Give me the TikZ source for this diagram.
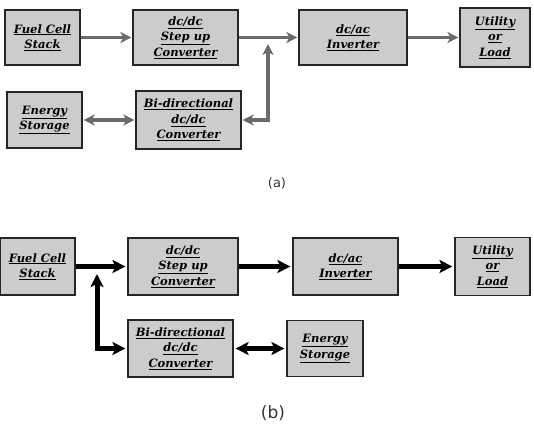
\documentclass[tikz,border=0pt]{standalone}
\usepackage{fontspec}
\setmainfont{DejaVu Serif}
\newfontfamily\capfont{DejaVu Sans}
\usetikzlibrary{arrows.meta}
\tikzset{
  blk/.style={draw=black!85, line width=1.2pt, fill=black!20, align=center, inner sep=1pt,
    font=\fontsize{11.5}{15.5}\selectfont\bfseries\itshape, text=black},
  arA/.style={draw=black!58, line width=3.5pt, -{Stealth[length=11pt,width=11pt,inset=3pt]}, shorten >=1pt},
  arAb/.style={draw=black!58, line width=3.5pt, {Stealth[length=11pt,width=11pt,inset=3pt]}-{Stealth[length=11pt,width=11pt,inset=3pt]}, shorten >=1pt, shorten <=1pt},
  arB/.style={draw=black, line width=5pt, -{Stealth[length=13pt,width=13pt,inset=3pt]}, shorten >=2pt},
  arBb/.style={draw=black, line width=5pt, {Stealth[length=13pt,width=13pt,inset=3pt]}-{Stealth[length=13pt,width=13pt,inset=3pt]}, shorten >=2pt, shorten <=2pt},
  capstyle/.style={text=black!80}
}
\newcommand{\ul}[1]{\underline{#1}}
\begin{document}
\begin{tikzpicture}[x=1pt,y=-1pt]
\useasboundingbox (0,0) rectangle (534,427);
% (a)
\node[blk, minimum width=75, minimum height=55] (fcA) at (42.5,37.5) {\ul{Fuel Cell}\\\ul{Stack}};
\node[blk, minimum width=105, minimum height=55] (suA) at (185.5,37.5) {\ul{dc/dc}\\\ul{Step up}\\\ul{Converter}};
\node[blk, minimum width=108, minimum height=55] (invA) at (353,37.5) {\ul{dc/ac}\\\ul{Inverter}};
\node[blk, minimum width=70, minimum height=59] (utA) at (495,37.5) {\ul{Utility}\\\ul{or}\\\ul{Load}};
\node[blk, minimum width=75, minimum height=56] (esA) at (44.5,120) {\ul{Energy}\\\ul{Storage}};
\node[blk, minimum width=105, minimum height=58] (bdA) at (188.5,120) {\ul{Bi-directional}\\\ul{dc/dc}\\\ul{Converter}};
\coordinate (jA) at (268,43);
\draw[arA] (fcA) -- (suA);
\draw[arA] (suA) -- (invA);
\draw[arA] (invA) -- (utA);
\draw[arAb] (esA) -- (bdA);
\draw[arAb] (bdA.east) -| (jA);
\node[capstyle, font=\capfont\fontsize{13}{15}\selectfont] (la) at (277,183) {(a)};
% (b)
\node[blk, minimum width=75, minimum height=57] (fcB) at (37.5,266.5) {\ul{Fuel Cell}\\\ul{Stack}};
\node[blk, minimum width=110, minimum height=57] (suB) at (183,266.5) {\ul{dc/dc}\\\ul{Step up}\\\ul{Converter}};
\node[blk, minimum width=105, minimum height=57] (invB) at (345.5,266.5) {\ul{dc/ac}\\\ul{Inverter}};
\node[blk, minimum width=75, minimum height=58] (utB) at (492.5,266.5) {\ul{Utility}\\\ul{or}\\\ul{Load}};
\node[blk, minimum width=105, minimum height=57] (bdB) at (180.5,348.5) {\ul{Bi-directional}\\\ul{dc/dc}\\\ul{Converter}};
\node[blk, minimum width=76, minimum height=56] (esB) at (325,348.5) {\ul{Energy}\\\ul{Storage}};
\coordinate (jB) at (97,272);
\draw[arB] (fcB) -- (suB);
\draw[arB] (suB) -- (invB);
\draw[arB] (invB) -- (utB);
\draw[arBb] (bdB) -- (esB);
\draw[arBb] (jB) |- (bdB.west);
\node[capstyle, font=\capfont\fontsize{17}{19}\selectfont] (lb) at (273,413) {(b)};
\end{tikzpicture}
\end{document}
